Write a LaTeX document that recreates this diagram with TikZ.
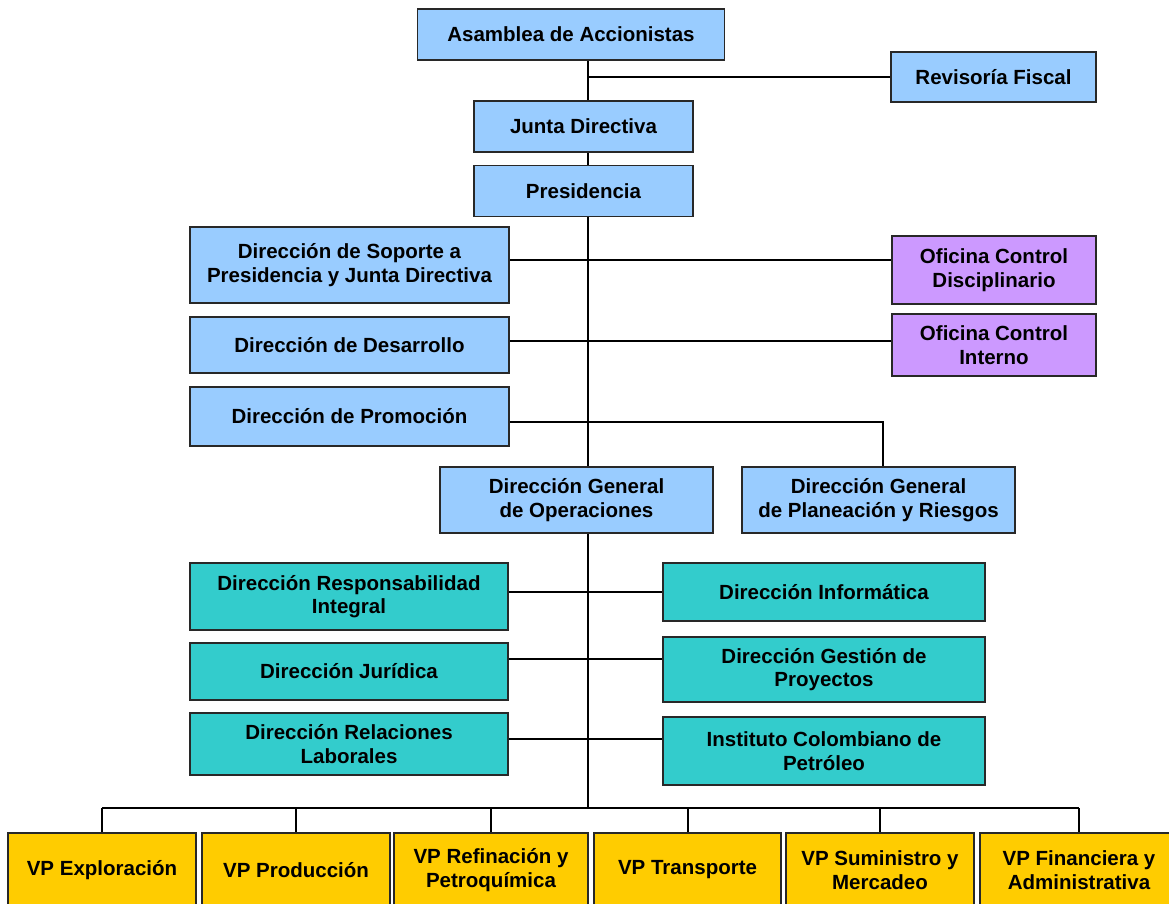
\documentclass[tikz,border=0pt]{standalone}
\usepackage{fontspec}
\setmainfont{Liberation Sans}
\usepackage{xcolor}
\usepackage{tikz}
\usetikzlibrary{positioning, calc, backgrounds}
\definecolor{ecBlue}{RGB}{153, 204, 255}
\definecolor{ecLilac}{RGB}{204, 153, 255}
\definecolor{ecTeal}{RGB}{51, 204, 204}
\definecolor{ecGold}{RGB}{255, 204, 0}
\definecolor{ecEdge}{RGB}{40, 40, 40}
\tikzset{
    base/.style={
        font=\fontsize{20.5}{23.5}\selectfont\bfseries,
        align=center
    },
    unitbox/.style={
        base,
        rectangle,
        draw=ecEdge,
        line width=1.2pt,
        inner sep=2pt
    },
    board/.style={unitbox, fill=ecBlue},
    office/.style={unitbox, fill=ecLilac},
    staff/.style={unitbox, fill=ecTeal},
    vp/.style={unitbox, fill=ecGold, minimum height=74pt},
    link/.style={
        line width=2pt,
        color=black
    }
}

\begin{document}
\begin{tikzpicture}[x=1pt, y=-1pt]
    \useasboundingbox (0,0) rectangle (1169,903);

    % Governance
    \node[board, minimum width=307, minimum height=51] (asamblea) at (571,34.5) {Asamblea de Accionistas};
    \node[board, minimum width=205, minimum height=50] (revisoria) at (993.5,77) {Revisoría Fiscal};
    \node[board, minimum width=219, minimum height=51] (junta) at (583.5,126.5) {Junta Directiva};
    \node[board, minimum width=219, minimum height=51] (presidencia) at (583.5,191) {Presidencia};

    % Direcciones under Presidencia
    \node[board, minimum width=319, minimum height=76] (soporte) at (349.5,265) {Dirección de Soporte a\\Presidencia y Junta Directiva};
    \node[board, minimum width=319, minimum height=56] (desarrollo) at (349.5,345) {Dirección de Desarrollo};
    \node[board, minimum width=319, minimum height=59] (promocion) at (349.5,416.5) {Dirección de Promoción};
    \node[office, minimum width=204, minimum height=68] (disciplinario) at (994,270) {Oficina Control\\Disciplinario};
    \node[office, minimum width=204, minimum height=62] (interno) at (994,345) {Oficina Control\\Interno};

    % Direcciones generales
    \node[board, minimum width=273, minimum height=66] (operaciones) at (576.5,500) {Dirección General\\de Operaciones};
    \node[board, minimum width=273, minimum height=66] (planeacion) at (878.5,500) {Dirección General\\de Planeación y Riesgos};

    % Staff
    \node[staff, minimum width=318, minimum height=67] (responsabilidad) at (349,596.5) {Dirección Responsabilidad\\Integral};
    \node[staff, minimum width=318, minimum height=57] (juridica) at (349,671.5) {Dirección Jurídica};
    \node[staff, minimum width=318, minimum height=62] (relaciones) at (349,744) {Dirección Relaciones\\Laborales};
    \node[staff, minimum width=322, minimum height=58] (informatica) at (824,592) {Dirección Informática};
    \node[staff, minimum width=322, minimum height=65] (gestion) at (824,669.5) {Dirección Gestión de\\Proyectos};
    \node[staff, minimum width=322, minimum height=68] (instituto) at (824,751) {Instituto Colombiano de\\Petróleo};

    % Vicepresidencias
    \node[vp, minimum width=188] (vp1) at (102,870) {VP Exploración};
    \node[vp, minimum width=188] (vp2) at (296,870) {VP Producción};
    \node[vp, minimum width=194] (vp3) at (491,870) {VP Refinación y\\Petroquímica};
    \node[vp, minimum width=187] (vp4) at (687.5,870) {VP Transporte};
    \node[vp, minimum width=188] (vp5) at (880,870) {VP Suministro y\\Mercadeo};
    \node[vp, minimum width=198] (vp6) at (1079,870) {VP Financiera y\\Administrativa};

    \coordinate (trunk) at (588,808);

    \begin{scope}[on background layer]
        % Main line
        \draw[link] (asamblea.south -| trunk) -- (trunk);
        \draw[link] (revisoria.west) -- (revisoria.west -| trunk);
        \draw[link] ([yshift=5pt]soporte.east) -- ([yshift=5pt]soporte.east -| disciplinario.west);
        \draw[link] ([yshift=4pt]desarrollo.east) -- ([yshift=4pt]desarrollo.east -| interno.west);
        \draw[link] ([yshift=-5pt]promocion.east) -| (planeacion.north -| 883,0);
        \draw[link] (informatica.west -| responsabilidad.east) -- (informatica.west);
        \draw[link] ([yshift=13pt]juridica.east) -- ([yshift=13pt]juridica.east -| gestion.west);
        \draw[link] ([yshift=5pt]relaciones.east) -- ([yshift=5pt]relaciones.east -| instituto.west);
        % Bus to VPs
        \draw[link] (vp1.north |- trunk) -- (vp6.north |- trunk);
        \foreach \v in {vp1,vp2,vp3,vp4,vp5,vp6}
            \draw[link] (\v.north |- trunk) -- (\v.north);
    \end{scope}
\end{tikzpicture}
\end{document}
